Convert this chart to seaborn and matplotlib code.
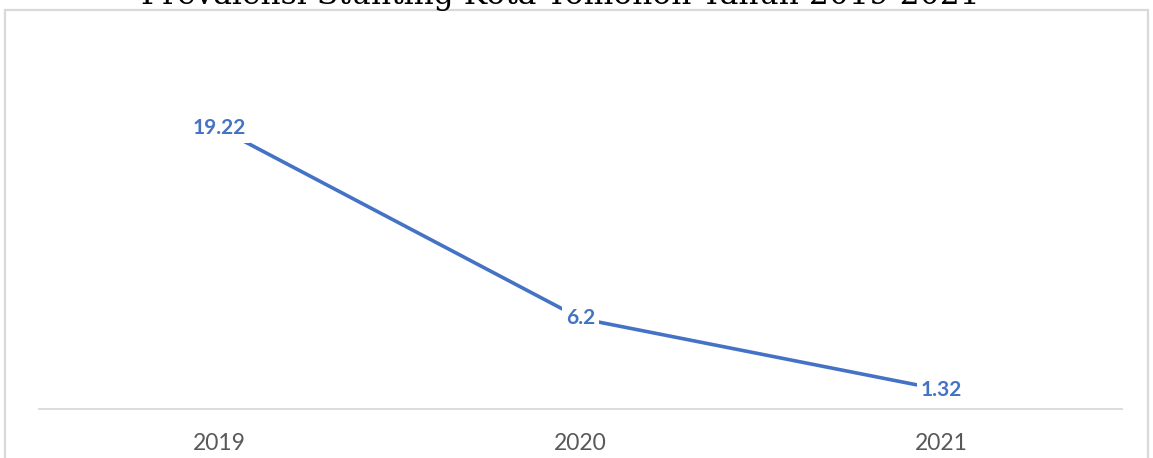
import matplotlib
matplotlib.use("Agg")
import matplotlib.pyplot as plt
import seaborn as sns
import pandas as pd
from matplotlib.patches import Rectangle

years = ["2019", "2020", "2021"]
prevalence = [19.22, 6.2, 1.32]
labels = ["19.22", "6.2", "1.32"]
title = "Prevalensi Stunting Kota Tomohon Tahun 2019-2021"

df = pd.DataFrame({"Tahun": years, "Prevalensi": prevalence})

sns.set_style("white")
blue = "#4472C4"

W, H = 1153, 458
fig = plt.figure(figsize=(W / 100, H / 100), dpi=100)
ax = fig.add_axes([39 / W, 49 / H, (1122 - 39) / W, (409 - 44) / H])

sns.lineplot(data=df, x="Tahun", y="Prevalensi", color=blue, linewidth=2.6,
             ax=ax, sort=False)

for i, (v, t) in enumerate(zip(prevalence, labels)):
    ax.text(i, v, t, ha="center", va="center", color=blue, fontsize=15,
            fontweight="bold", family="Lato",
            bbox=dict(boxstyle="square,pad=0.2", fc="white", ec="none"))

ax.set_xlim(-0.5, 2.5)
ax.set_ylim(0, 25)
ax.set_xlabel("")
ax.set_ylabel("")
ax.set_yticks([])
ax.set_xticks(range(len(years)))
ax.set_xticklabels(years, family="Lato", fontsize=16.5, color="#595959")
ax.tick_params(axis="x", length=0, pad=17)
for s in ["top", "left", "right"]:
    ax.spines[s].set_visible(False)
ax.spines["bottom"].set_color("#d9d9d9")
ax.spines["bottom"].set_linewidth(1.3)
ax.patch.set_alpha(0)

# chart border
fig.patches.append(Rectangle((5 / W, -0.1), (1148 - 5) / W, 1.1 - 10 / H,
                             transform=fig.transFigure, fill=False,
                             ec="#d9d9d9", lw=1.6, zorder=0))

fig.text(560 / W, 1 - 4 / H, title, ha="center", va="baseline",
         family="DejaVu Serif", fontsize=22.6, color="black")

fig.savefig("out.png", dpi=100)
